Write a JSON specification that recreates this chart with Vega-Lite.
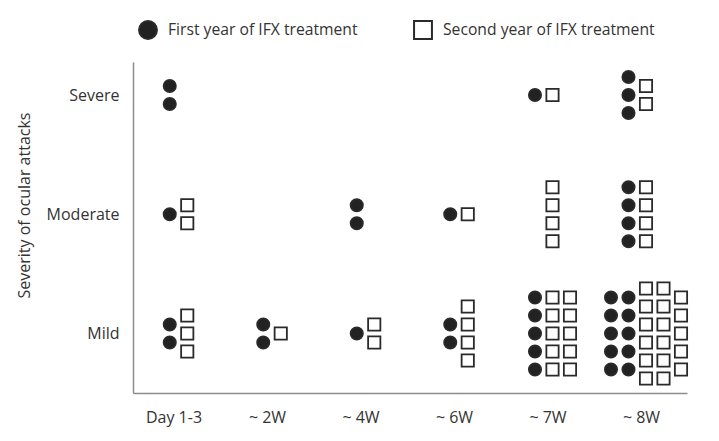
{
  "$schema": "https://vega.github.io/schema/vega-lite/v6.json",
  "width": 554,
  "height": 331,
  "autosize": {"type": "none"},
  "padding": {"left": 133, "top": 62, "right": 32, "bottom": 48},
  "background": "white",
  "config": {
    "view": {"stroke": null},
    "font": "Open Sans",
    "axis": {"labelFont": "Open Sans", "titleFont": "Open Sans", "labelColor": "#333", "titleColor": "#333", "grid": false, "ticks": false, "domainColor": "#8c8c8c", "domainWidth": 1.5},
    "legend": {"labelFont": "Open Sans", "labelColor": "#333", "labelLimit": 400}
  },
  "data": {
    "values": [
      {"p": "Day 1-3", "s": "Severe", "y": "First year of IFX treatment", "c": -1, "r": -1},
      {"p": "Day 1-3", "s": "Severe", "y": "First year of IFX treatment", "c": -1, "r": 1},
      {"p": "Day 1-3", "s": "Moderate", "y": "First year of IFX treatment", "c": -1, "r": 0},
      {"p": "Day 1-3", "s": "Moderate", "y": "Second year of IFX treatment", "c": 1, "r": -1},
      {"p": "Day 1-3", "s": "Moderate", "y": "Second year of IFX treatment", "c": 1, "r": 1},
      {"p": "Day 1-3", "s": "Mild", "y": "First year of IFX treatment", "c": -1, "r": -1},
      {"p": "Day 1-3", "s": "Mild", "y": "First year of IFX treatment", "c": -1, "r": 1},
      {"p": "Day 1-3", "s": "Mild", "y": "Second year of IFX treatment", "c": 1, "r": -2},
      {"p": "Day 1-3", "s": "Mild", "y": "Second year of IFX treatment", "c": 1, "r": 0},
      {"p": "Day 1-3", "s": "Mild", "y": "Second year of IFX treatment", "c": 1, "r": 2},

      {"p": "~ 2W", "s": "Mild", "y": "First year of IFX treatment", "c": -1, "r": -1},
      {"p": "~ 2W", "s": "Mild", "y": "First year of IFX treatment", "c": -1, "r": 1},
      {"p": "~ 2W", "s": "Mild", "y": "Second year of IFX treatment", "c": 1, "r": 0},

      {"p": "~ 4W", "s": "Moderate", "y": "First year of IFX treatment", "c": -1, "r": -1},
      {"p": "~ 4W", "s": "Moderate", "y": "First year of IFX treatment", "c": -1, "r": 1},
      {"p": "~ 4W", "s": "Mild", "y": "First year of IFX treatment", "c": -1, "r": 0},
      {"p": "~ 4W", "s": "Mild", "y": "Second year of IFX treatment", "c": 1, "r": -1},
      {"p": "~ 4W", "s": "Mild", "y": "Second year of IFX treatment", "c": 1, "r": 1},

      {"p": "~ 6W", "s": "Moderate", "y": "First year of IFX treatment", "c": -1, "r": 0},
      {"p": "~ 6W", "s": "Moderate", "y": "Second year of IFX treatment", "c": 1, "r": 0},
      {"p": "~ 6W", "s": "Mild", "y": "First year of IFX treatment", "c": -1, "r": -1},
      {"p": "~ 6W", "s": "Mild", "y": "First year of IFX treatment", "c": -1, "r": 1},
      {"p": "~ 6W", "s": "Mild", "y": "Second year of IFX treatment", "c": 1, "r": -3},
      {"p": "~ 6W", "s": "Mild", "y": "Second year of IFX treatment", "c": 1, "r": -1},
      {"p": "~ 6W", "s": "Mild", "y": "Second year of IFX treatment", "c": 1, "r": 1},
      {"p": "~ 6W", "s": "Mild", "y": "Second year of IFX treatment", "c": 1, "r": 3},

      {"p": "~ 7W", "s": "Severe", "y": "First year of IFX treatment", "c": -2, "r": 0},
      {"p": "~ 7W", "s": "Severe", "y": "Second year of IFX treatment", "c": 0, "r": 0},
      {"p": "~ 7W", "s": "Moderate", "y": "Second year of IFX treatment", "c": 0, "r": -3},
      {"p": "~ 7W", "s": "Moderate", "y": "Second year of IFX treatment", "c": 0, "r": -1},
      {"p": "~ 7W", "s": "Moderate", "y": "Second year of IFX treatment", "c": 0, "r": 1},
      {"p": "~ 7W", "s": "Moderate", "y": "Second year of IFX treatment", "c": 0, "r": 3},
      {"p": "~ 7W", "s": "Mild", "y": "First year of IFX treatment", "c": -2, "r": -4},
      {"p": "~ 7W", "s": "Mild", "y": "First year of IFX treatment", "c": -2, "r": -2},
      {"p": "~ 7W", "s": "Mild", "y": "First year of IFX treatment", "c": -2, "r": 0},
      {"p": "~ 7W", "s": "Mild", "y": "First year of IFX treatment", "c": -2, "r": 2},
      {"p": "~ 7W", "s": "Mild", "y": "First year of IFX treatment", "c": -2, "r": 4},
      {"p": "~ 7W", "s": "Mild", "y": "Second year of IFX treatment", "c": 0, "r": -4},
      {"p": "~ 7W", "s": "Mild", "y": "Second year of IFX treatment", "c": 0, "r": -2},
      {"p": "~ 7W", "s": "Mild", "y": "Second year of IFX treatment", "c": 0, "r": 0},
      {"p": "~ 7W", "s": "Mild", "y": "Second year of IFX treatment", "c": 0, "r": 2},
      {"p": "~ 7W", "s": "Mild", "y": "Second year of IFX treatment", "c": 0, "r": 4},
      {"p": "~ 7W", "s": "Mild", "y": "Second year of IFX treatment", "c": 2, "r": -4},
      {"p": "~ 7W", "s": "Mild", "y": "Second year of IFX treatment", "c": 2, "r": -2},
      {"p": "~ 7W", "s": "Mild", "y": "Second year of IFX treatment", "c": 2, "r": 0},
      {"p": "~ 7W", "s": "Mild", "y": "Second year of IFX treatment", "c": 2, "r": 2},
      {"p": "~ 7W", "s": "Mild", "y": "Second year of IFX treatment", "c": 2, "r": 4},

      {"p": "~ 8W", "s": "Severe", "y": "First year of IFX treatment", "c": -2, "r": -2},
      {"p": "~ 8W", "s": "Severe", "y": "First year of IFX treatment", "c": -2, "r": 0},
      {"p": "~ 8W", "s": "Severe", "y": "First year of IFX treatment", "c": -2, "r": 2},
      {"p": "~ 8W", "s": "Severe", "y": "Second year of IFX treatment", "c": 0, "r": -1},
      {"p": "~ 8W", "s": "Severe", "y": "Second year of IFX treatment", "c": 0, "r": 1},
      {"p": "~ 8W", "s": "Moderate", "y": "First year of IFX treatment", "c": -2, "r": -3},
      {"p": "~ 8W", "s": "Moderate", "y": "First year of IFX treatment", "c": -2, "r": -1},
      {"p": "~ 8W", "s": "Moderate", "y": "First year of IFX treatment", "c": -2, "r": 1},
      {"p": "~ 8W", "s": "Moderate", "y": "First year of IFX treatment", "c": -2, "r": 3},
      {"p": "~ 8W", "s": "Moderate", "y": "Second year of IFX treatment", "c": 0, "r": -3},
      {"p": "~ 8W", "s": "Moderate", "y": "Second year of IFX treatment", "c": 0, "r": -1},
      {"p": "~ 8W", "s": "Moderate", "y": "Second year of IFX treatment", "c": 0, "r": 1},
      {"p": "~ 8W", "s": "Moderate", "y": "Second year of IFX treatment", "c": 0, "r": 3},
      {"p": "~ 8W", "s": "Mild", "y": "First year of IFX treatment", "c": -4, "r": -4},
      {"p": "~ 8W", "s": "Mild", "y": "First year of IFX treatment", "c": -4, "r": -2},
      {"p": "~ 8W", "s": "Mild", "y": "First year of IFX treatment", "c": -4, "r": 0},
      {"p": "~ 8W", "s": "Mild", "y": "First year of IFX treatment", "c": -4, "r": 2},
      {"p": "~ 8W", "s": "Mild", "y": "First year of IFX treatment", "c": -4, "r": 4},
      {"p": "~ 8W", "s": "Mild", "y": "First year of IFX treatment", "c": -2, "r": -4},
      {"p": "~ 8W", "s": "Mild", "y": "First year of IFX treatment", "c": -2, "r": -2},
      {"p": "~ 8W", "s": "Mild", "y": "First year of IFX treatment", "c": -2, "r": 0},
      {"p": "~ 8W", "s": "Mild", "y": "First year of IFX treatment", "c": -2, "r": 2},
      {"p": "~ 8W", "s": "Mild", "y": "First year of IFX treatment", "c": -2, "r": 4},
      {"p": "~ 8W", "s": "Mild", "y": "Second year of IFX treatment", "c": 0, "r": -5},
      {"p": "~ 8W", "s": "Mild", "y": "Second year of IFX treatment", "c": 0, "r": -3},
      {"p": "~ 8W", "s": "Mild", "y": "Second year of IFX treatment", "c": 0, "r": -1},
      {"p": "~ 8W", "s": "Mild", "y": "Second year of IFX treatment", "c": 0, "r": 1},
      {"p": "~ 8W", "s": "Mild", "y": "Second year of IFX treatment", "c": 0, "r": 3},
      {"p": "~ 8W", "s": "Mild", "y": "Second year of IFX treatment", "c": 0, "r": 5},
      {"p": "~ 8W", "s": "Mild", "y": "Second year of IFX treatment", "c": 2, "r": -5},
      {"p": "~ 8W", "s": "Mild", "y": "Second year of IFX treatment", "c": 2, "r": -3},
      {"p": "~ 8W", "s": "Mild", "y": "Second year of IFX treatment", "c": 2, "r": -1},
      {"p": "~ 8W", "s": "Mild", "y": "Second year of IFX treatment", "c": 2, "r": 1},
      {"p": "~ 8W", "s": "Mild", "y": "Second year of IFX treatment", "c": 2, "r": 3},
      {"p": "~ 8W", "s": "Mild", "y": "Second year of IFX treatment", "c": 2, "r": 5},
      {"p": "~ 8W", "s": "Mild", "y": "Second year of IFX treatment", "c": 4, "r": -4},
      {"p": "~ 8W", "s": "Mild", "y": "Second year of IFX treatment", "c": 4, "r": -2},
      {"p": "~ 8W", "s": "Mild", "y": "Second year of IFX treatment", "c": 4, "r": 0},
      {"p": "~ 8W", "s": "Mild", "y": "Second year of IFX treatment", "c": 4, "r": 2},
      {"p": "~ 8W", "s": "Mild", "y": "Second year of IFX treatment", "c": 4, "r": 4}
    ]
  },
  "mark": {"type": "point", "filled": true, "size": 150, "strokeWidth": 1.8, "opacity": 1},
  "encoding": {
    "x": {
      "field": "p", "type": "nominal",
      "sort": ["Day 1-3", "~ 2W", "~ 4W", "~ 6W", "~ 7W", "~ 8W"],
      "scale": {"type": "point", "padding": 0.4626, "align": 0.526},
      "axis": {"title": null, "labelAngle": 0, "labelFontSize": 16, "labelPadding": 16, "labelOffset": -5}
    },
    "xOffset": {
      "field": "c", "type": "ordinal",
      "scale": {"type": "point", "domain": [-4, -3, -2, -1, 0, 1, 2, 3, 4], "range": [-35, 35], "padding": 0}
    },
    "y": {
      "field": "s", "type": "nominal",
      "sort": ["Severe", "Moderate", "Mild"],
      "scale": {"type": "point", "padding": 0.388, "align": 0.357},
      "axis": {"title": "Severity of ocular attacks", "labelFontSize": 16, "labelPadding": 14, "titleFontSize": 16, "titleFontWeight": "normal", "titlePadding": 14, "titleY": 143}
    },
    "yOffset": {
      "field": "r", "type": "ordinal",
      "scale": {"type": "point", "domain": [-5, -4, -3, -2, -1, 0, 1, 2, 3, 4, 5], "range": [-45, 45], "padding": 0}
    },
    "shape": {
      "field": "y", "type": "nominal",
      "scale": {"domain": ["First year of IFX treatment", "Second year of IFX treatment"], "range": ["circle", "square"]},
      "legend": {"title": null, "orient": "none", "direction": "horizontal", "legendX": 5, "legendY": -42, "padding": 0, "symbolSize": 320, "symbolStrokeWidth": 2, "labelFontSize": 15.7, "labelOffset": 10, "columnPadding": 52, "labelLimit": 400}
    },
    "fill": {
      "field": "y", "type": "nominal",
      "scale": {"domain": ["First year of IFX treatment", "Second year of IFX treatment"], "range": ["#222222", "#ffffff"]},
      "legend": {"title": null, "orient": "none", "direction": "horizontal", "legendX": 5, "legendY": -42, "padding": 0, "symbolSize": 320, "symbolStrokeWidth": 2, "labelFontSize": 15.7, "labelOffset": 10, "columnPadding": 52, "labelLimit": 400}
    },
    "stroke": {
      "field": "y", "type": "nominal",
      "scale": {"domain": ["First year of IFX treatment", "Second year of IFX treatment"], "range": ["#2a2a2a", "#2a2a2a"]},
      "legend": {"title": null, "orient": "none", "direction": "horizontal", "legendX": 5, "legendY": -42, "padding": 0, "symbolSize": 320, "symbolStrokeWidth": 2, "labelFontSize": 15.7, "labelOffset": 10, "columnPadding": 52, "labelLimit": 400}
    }
  }
}
